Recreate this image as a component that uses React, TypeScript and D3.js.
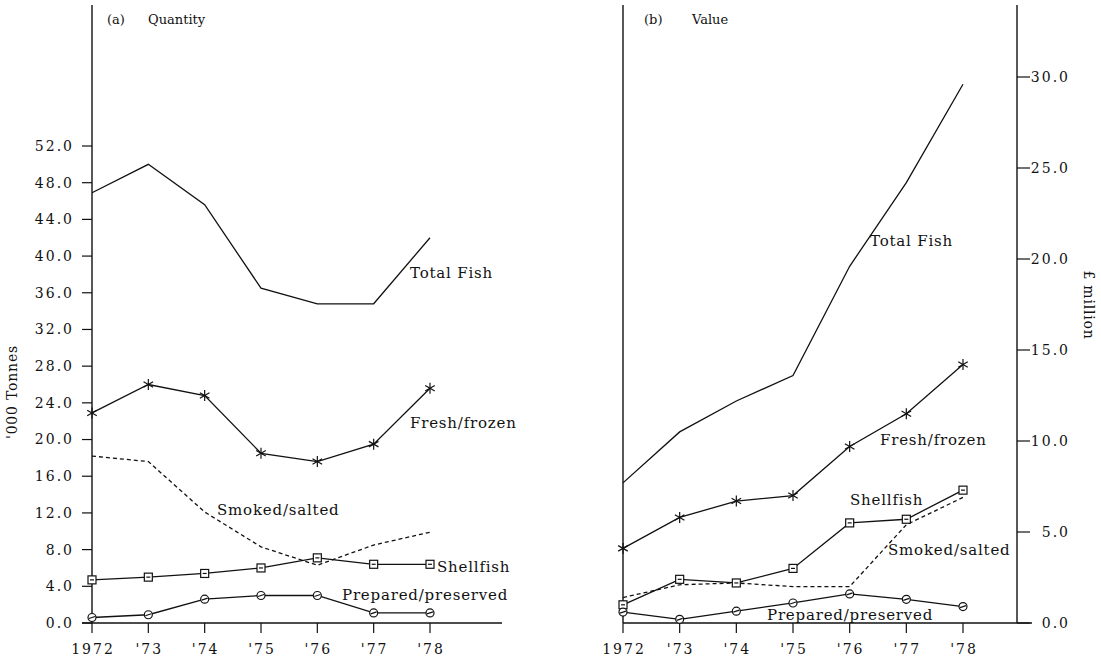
import React from "react";
import * as d3 from "d3";

const years = [1972, 1973, 1974, 1975, 1976, 1977, 1978];
const yearLabels = ["1972", "'73", "'74", "'75", "'76", "'77", "'78"];

// (a) Quantity, '000 tonnes
const qTotal = [46.9, 50.0, 45.6, 36.5, 34.8, 34.8, 42.0];
const qFresh = [22.9, 26.0, 24.8, 18.5, 17.6, 19.5, 25.6];
const qSmoked = [18.2, 17.6, 12.1, 8.3, 6.3, 8.5, 9.9];
const qShell = [4.7, 5.0, 5.4, 6.0, 7.1, 6.4, 6.4];
const qPrepared = [0.6, 0.9, 2.6, 3.0, 3.0, 1.1, 1.1];

// (b) Value, £ million
const vTotal = [7.7, 10.5, 12.2, 13.6, 19.6, 24.2, 29.6];
const vFresh = [4.1, 5.8, 6.7, 7.0, 9.7, 11.5, 14.2];
const vSmoked = [1.4, 2.1, 2.2, 2.0, 2.0, 5.4, 6.9];
const vShell = [1.0, 2.4, 2.2, 3.0, 5.5, 5.7, 7.3];
const vPrepared = [0.6, 0.2, 0.65, 1.1, 1.6, 1.3, 0.9];

const qTicks = [0, 4, 8, 12, 16, 20, 24, 28, 32, 36, 40, 44, 48, 52];
const vTicks = [0, 5, 10, 15, 20, 25, 30];

const TEXT_FONT = "'DejaVu Serif', serif";

type Marker = "none" | "star" | "square" | "circle";

function Series({ xs, ys, vals, dashed, marker }: { xs: d3.ScaleLinear<number, number>; ys: d3.ScaleLinear<number, number>; vals: number[]; dashed?: boolean; marker: Marker }) {
  const line = d3.line<number>().x((_, i) => xs(years[i])).y((v) => ys(v));
  return (
    <g>
      <path d={line(vals) || ""} fill="none" stroke="#111" strokeWidth={1.3} strokeDasharray={dashed ? "4,3" : undefined} />
      {vals.map((v, i) => {
        const cx = xs(years[i]);
        const cy = ys(v);
        if (marker === "star") {
          const r = 5.5;
          return (
            <g key={i} stroke="#111" strokeWidth={1.2}>
              <line x1={cx} y1={cy - r} x2={cx} y2={cy + r} />
              <line x1={cx - r * 0.87} y1={cy - r * 0.5} x2={cx + r * 0.87} y2={cy + r * 0.5} />
              <line x1={cx - r * 0.87} y1={cy + r * 0.5} x2={cx + r * 0.87} y2={cy - r * 0.5} />
            </g>
          );
        }
        if (marker === "square") {
          return (
            <g key={i} stroke="#111" strokeWidth={1.2} fill="#fff">
              <rect x={cx - 4} y={cy - 4} width={8} height={8} />
              <line x1={cx - 2} y1={cy} x2={cx + 2} y2={cy} />
            </g>
          );
        }
        if (marker === "circle") {
          return (
            <g key={i} stroke="#111" strokeWidth={1.2} fill="#fff">
              <circle cx={cx} cy={cy} r={4} />
              <line x1={cx - 3} y1={cy + 1} x2={cx + 3} y2={cy - 1} />
            </g>
          );
        }
        return null;
      })}
    </g>
  );
}

export default function App() {
  const base = 623;
  const top = 5;
  const xA = d3.scaleLinear().domain([1972, 1978]).range([92, 430]);
  const yA = d3.scaleLinear().domain([0, 52]).range([base, 146]);
  const xB = d3.scaleLinear().domain([1972, 1978]).range([623, 963]);
  const yB = d3.scaleLinear().domain([0, 30]).range([base, 77]);

  const txt = { fontFamily: TEXT_FONT, fontSize: 15, letterSpacing: 0.8, fill: "#111" } as const;
  const title = { fontFamily: TEXT_FONT, fontSize: 13, fill: "#111" } as const;
  const tick = { fontFamily: TEXT_FONT, fontSize: 14, letterSpacing: 2, fill: "#111" } as const;

  return (
    <svg width={1101} height={660} style={{ position: "absolute", left: 0, top: 0, background: "#fff" }}>
      <rect width={1101} height={660} fill="#fff" />
      {/* Panel (a) axes */}
      <line x1={xA(1972)} y1={top} x2={xA(1972)} y2={base} stroke="#111" strokeWidth={1.4} />
      <line x1={82} y1={base} x2={502} y2={base} stroke="#111" strokeWidth={1.3} />
      {qTicks.map((t) => (
        <g key={t}>
          <line x1={82} x2={xA(1972)} y1={yA(t)} y2={yA(t)} stroke="#111" strokeWidth={1.2} />
          <text x={74} y={yA(t)} dy="0.35em" textAnchor="end" {...tick}>{t.toFixed(1)}</text>
        </g>
      ))}
      {years.map((y, i) => (
        <g key={y}>
          <line x1={xA(y)} x2={xA(y)} y1={base} y2={base + 10} stroke="#111" strokeWidth={1.2} />
          <text x={xA(y) + 1} y={654} textAnchor="middle" {...tick}>{yearLabels[i]}</text>
        </g>
      ))}
      <text transform="translate(17,392) rotate(-90)" textAnchor="middle" {...txt} fontSize={14}>'000 Tonnes</text>
      <text x={107} y={24} {...title}>(a)</text>
      <text x={148} y={24} {...title}>Quantity</text>

      <Series xs={xA} ys={yA} vals={qTotal} marker="none" />
      <Series xs={xA} ys={yA} vals={qFresh} marker="star" />
      <Series xs={xA} ys={yA} vals={qSmoked} marker="none" dashed />
      <Series xs={xA} ys={yA} vals={qShell} marker="square" />
      <Series xs={xA} ys={yA} vals={qPrepared} marker="circle" />

      <text x={410} y={278} {...txt}>Total Fish</text>
      <text x={410} y={428} {...txt}>Fresh/frozen</text>
      <text x={217} y={515} {...txt}>Smoked/salted</text>
      <text x={437} y={572} {...txt}>Shellfish</text>
      <text x={342} y={600} {...txt}>Prepared/preserved</text>

      {/* Panel (b) axes */}
      <line x1={xB(1972)} y1={top} x2={xB(1972)} y2={base} stroke="#111" strokeWidth={1.4} />
      <line x1={1017} y1={top} x2={1017} y2={base} stroke="#111" strokeWidth={1.4} />
      <line x1={xB(1972)} y1={base} x2={1032} y2={base} stroke="#111" strokeWidth={1.3} />
      {vTicks.map((t) => (
        <g key={t}>
          <line x1={1017} x2={1030} y1={yB(t)} y2={yB(t)} stroke="#111" strokeWidth={1.2} />
          <text x={1070} y={yB(t)} dy="0.35em" textAnchor="end" {...tick}>{t.toFixed(1)}</text>
        </g>
      ))}
      {years.map((y, i) => (
        <g key={y}>
          <line x1={xB(y)} x2={xB(y)} y1={base} y2={base + 10} stroke="#111" strokeWidth={1.2} />
          <text x={xB(y) + 1} y={654} textAnchor="middle" {...tick}>{yearLabels[i]}</text>
        </g>
      ))}
      <text transform="translate(1084,305) rotate(90)" textAnchor="middle" {...txt} fontSize={14}>£ million</text>
      <text x={644} y={24} {...title}>(b)</text>
      <text x={692} y={24} {...title}>Value</text>

      <Series xs={xB} ys={yB} vals={vTotal} marker="none" />
      <Series xs={xB} ys={yB} vals={vFresh} marker="star" />
      <Series xs={xB} ys={yB} vals={vSmoked} marker="none" dashed />
      <Series xs={xB} ys={yB} vals={vShell} marker="square" />
      <Series xs={xB} ys={yB} vals={vPrepared} marker="circle" />

      <text x={870} y={246} {...txt}>Total Fish</text>
      <text x={880} y={445} {...txt}>Fresh/frozen</text>
      <text x={850} y={505} {...txt}>Shellfish</text>
      <text x={888} y={555} {...txt}>Smoked/salted</text>
      <text x={767} y={620} {...txt}>Prepared/preserved</text>
    </svg>
  );
}
